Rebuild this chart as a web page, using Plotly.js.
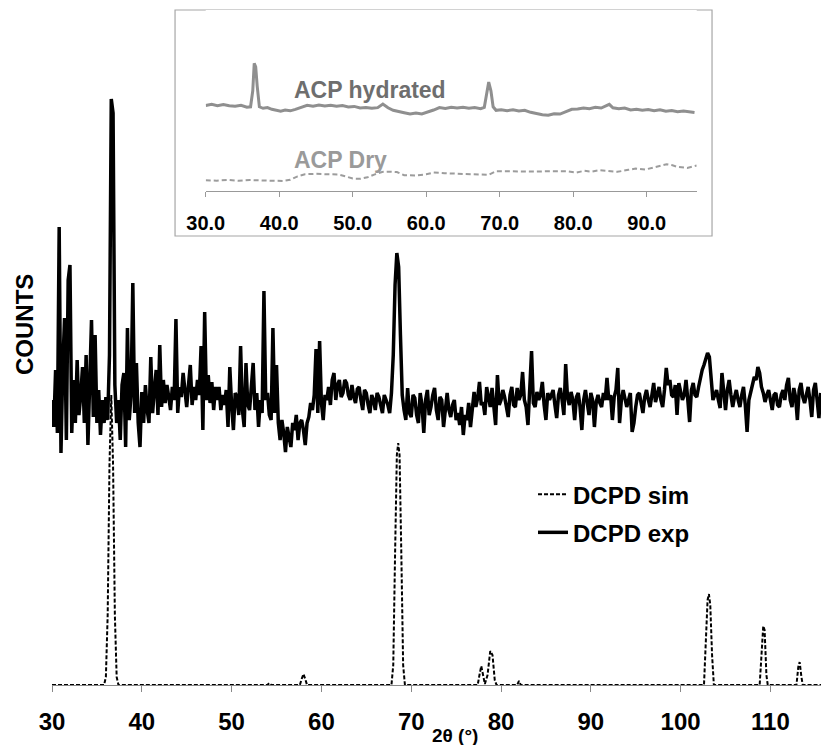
<!DOCTYPE html>
<html>
<head>
<meta charset="utf-8">
<script src="https://cdn.plot.ly/plotly-3.0.1.min.js"></script>
<style>html,body{margin:0;padding:0;background:#fff;}#chart{width:821px;height:745px;}</style>
</head>
<body>
<div id="chart"></div>
<script>
const expX = [
30.0,30.2,30.4,30.6,30.8,31.0,31.2,31.4,31.6,31.8,
32.0,32.2,32.4,32.6,32.8,33.0,33.2,33.4,33.6,33.8,
34.0,34.2,34.4,34.6,34.8,35.0,35.2,35.4,35.6,35.8,
36.0,36.2,36.4,36.6,36.8,37.0,37.2,37.4,37.6,37.8,
38.0,38.2,38.4,38.6,38.8,39.0,39.2,39.4,39.6,39.8,
40.0,40.2,40.4,40.6,40.8,41.0,41.2,41.4,41.6,41.8,
42.0,42.2,42.4,42.6,42.8,43.0,43.2,43.4,43.6,43.8,
44.0,44.2,44.4,44.6,44.8,45.0,45.2,45.4,45.6,45.8,
46.0,46.2,46.4,46.6,46.8,47.0,47.2,47.4,47.6,47.8,
48.0,48.2,48.4,48.6,48.8,49.0,49.2,49.4,49.6,49.8,
50.0,50.2,50.4,50.6,50.8,51.0,51.2,51.4,51.6,51.8,
52.0,52.2,52.4,52.6,52.8,53.0,53.2,53.4,53.6,53.8,
54.0,54.2,54.4,54.6,54.8,55.0,55.2,55.4,55.6,55.8,
56.0,56.2,56.4,56.6,56.8,57.0,57.2,57.4,57.6,57.8,
58.0,58.2,58.4,58.6,58.8,59.0,59.2,59.4,59.6,59.8,
60.0,60.2,60.4,60.6,60.8,61.0,61.2,61.4,61.6,61.8,
62.0,62.2,62.4,62.6,62.8,63.0,63.2,63.4,63.6,63.8,
64.0,64.2,64.4,64.6,64.8,65.0,65.2,65.4,65.6,65.8,
66.0,66.2,66.4,66.6,66.8,67.0,67.2,67.4,67.6,67.8,
68.0,68.2,68.4,68.6,68.8,69.0,69.2,69.4,69.6,69.8,
70.0,70.2,70.4,70.6,70.8,71.0,71.2,71.4,71.6,71.8,
72.0,72.2,72.4,72.6,72.8,73.0,73.2,73.4,73.6,73.8,
74.0,74.2,74.4,74.6,74.8,75.0,75.2,75.4,75.6,75.8,
76.0,76.2,76.4,76.6,76.8,77.0,77.2,77.4,77.6,77.8,
78.0,78.2,78.4,78.6,78.8,79.0,79.2,79.4,79.6,79.8,
80.0,80.2,80.4,80.6,80.8,81.0,81.2,81.4,81.6,81.8,
82.0,82.2,82.4,82.6,82.8,83.0,83.2,83.4,83.6,83.8,
84.0,84.2,84.4,84.6,84.8,85.0,85.2,85.4,85.6,85.8,
86.0,86.2,86.4,86.6,86.8,87.0,87.2,87.4,87.6,87.8,
88.0,88.2,88.4,88.6,88.8,89.0,89.2,89.4,89.6,89.8,
90.0,90.2,90.4,90.6,90.8,91.0,91.2,91.4,91.6,91.8,
92.0,92.2,92.4,92.6,92.8,93.0,93.2,93.4,93.6,93.8,
94.0,94.2,94.4,94.6,94.8,95.0,95.2,95.4,95.6,95.8,
96.0,96.2,96.4,96.6,96.8,97.0,97.2,97.4,97.6,97.8,
98.0,98.2,98.4,98.6,98.8,99.0,99.2,99.4,99.6,99.8,
100.0,100.2,100.4,100.6,100.8,101.0,101.2,101.4,101.6,101.8,
102.0,102.2,102.4,102.6,102.8,103.0,103.2,103.4,103.6,103.8,
104.0,104.2,104.4,104.6,104.8,105.0,105.2,105.4,105.6,105.8,
106.0,106.2,106.4,106.6,106.8,107.0,107.2,107.4,107.6,107.8,
108.0,108.2,108.4,108.6,108.8,109.0,109.2,109.4,109.6,109.8,
110.0,110.2,110.4,110.6,110.8,111.0,111.2,111.4,111.6,111.8,
112.0,112.2,112.4,112.6,112.8,113.0,113.2,113.4,113.6,113.8,
114.0,114.2,114.4,114.6,114.8,115.0,115.2,115.4,115.6];
const expY = [
285,258,315,252,458,232,318,367,245,405,
420,252,305,262,325,270,290,318,262,330,
240,305,365,268,350,262,295,250,285,262,
288,265,330,586,572,300,262,285,245,300,
312,238,357,265,290,402,272,322,262,238,
293,262,300,275,262,328,272,295,315,270,
340,278,305,282,300,288,275,298,285,366,
272,298,288,312,290,278,300,320,280,298,
285,305,290,339,255,373,285,310,282,303,
275,298,285,298,275,290,280,295,258,318,
280,255,292,288,270,339,275,258,322,280,
275,300,322,275,292,258,285,272,394,285,
292,270,265,357,272,320,262,245,265,252,
233,258,245,238,262,255,270,245,262,265,
255,240,262,268,282,275,290,336,272,344,
282,265,290,285,298,280,305,312,285,300,
305,288,292,305,302,290,285,300,288,282,
296,298,285,275,295,292,280,272,290,285,
275,292,288,278,272,290,285,280,272,292,
330,400,432,418,350,290,275,265,297,272,
268,290,287,270,262,292,280,252,285,295,
270,278,290,297,275,265,288,285,258,280,
292,275,268,280,285,265,272,260,278,250,
270,265,282,258,275,293,278,287,303,280,
283,270,298,285,278,297,282,260,310,280,
285,295,288,275,268,290,298,280,278,297,
285,290,313,285,278,260,290,334,282,278,
293,285,290,303,280,265,292,285,290,295,
280,267,290,297,285,270,321,288,280,293,
285,265,288,292,278,255,285,295,282,270,
292,285,258,283,290,282,278,292,285,307,
285,290,265,288,295,317,262,285,295,288,
278,285,292,253,262,278,290,292,280,272,
288,295,285,278,290,302,283,290,298,285,
278,295,317,300,305,290,288,300,270,302,
295,285,290,305,285,263,295,302,290,288,
298,308,315,320,325,332,328,310,285,290,
295,285,277,312,290,275,295,305,290,278,
288,295,285,278,290,298,280,253,285,292,
300,308,305,318,312,298,292,283,290,295,
285,275,290,292,280,278,290,295,285,300,
307,285,278,297,288,265,295,302,288,282,
290,298,285,268,295,302,285,267,292];

// ---- Main chart: DCPD simulated pattern ----
const simX = [30,35.8,36.0,36.2,36.4,36.6,36.8,37.0,37.2,37.4,54.0,54.2,54.4,57.6,57.8,58.0,58.2,58.4,67.8,68.0,68.2,68.4,68.55,68.7,68.9,69.1,69.3,77.4,77.6,77.8,78.0,78.2,78.5,78.8,79.05,79.3,79.5,81.8,82.0,82.2,102.6,102.8,103.0,103.15,103.3,103.5,103.7,108.8,109.0,109.2,109.35,109.55,109.7,112.9,113.1,113.25,113.45,113.6,115.63];
const simY = [0,0,8,70,220,290,220,70,8,0,0,2,0,0,6,11,6,0,0,20,130,230,242,230,130,20,0,0,10,19,10,1,10,34,30,5,0,0,4,0,0,40,85,91,80,30,0,0,30,59,55,10,0,0,18,23,8,0,0];

// ---- Inset: ACP hydrated / ACP Dry ----
const hydX = [30,30.8,31.6,32.4,33.2,34,34.8,35.6,36.1,36.4,36.6,36.8,37.0,37.3,37.8,38.4,39,39.6,40.2,40.8,41.5,42.2,43,43.8,44.6,45.4,46.2,47,47.8,48.6,49.4,50.2,51,51.8,52.6,53.4,54.1,54.8,55.5,56.2,57,57.8,58.6,59.4,60.2,61,61.8,62.6,63.4,64.2,65,65.8,66.6,67.4,67.9,68.2,68.5,68.8,69.1,69.5,70.2,71,71.8,72.6,73.4,74.2,75,75.8,76.6,77.4,78.2,79,79.8,80.6,81.4,82.2,83,83.8,84.5,84.9,85.4,86.2,87,87.8,88.6,89.4,90.2,91,91.8,92.6,93.4,94.2,95,95.8,96.5];
const hydY = [85.4,86.5,85.0,86.2,85.0,84.6,85.5,83.6,84.0,100,127.6,124,105,84.0,82.5,83.3,81.5,80.2,79.6,80.8,80.0,81.5,83.4,85.5,84.6,85.8,84.8,85.6,84.5,85.2,83.8,84.4,82.8,83.4,82.5,83.2,86.8,83.0,80.5,79.0,78.0,76.8,77.8,76.8,78.5,80.8,83.2,82.4,83.5,82.8,83.6,82.5,83.2,82.2,83.5,95,108.7,100,84,80.5,81.0,80.2,81.0,79.8,80.6,78.5,77.2,76.0,75.5,77.0,76.8,79.5,81.5,81.8,82.8,82.2,83.5,82.8,85.0,86.5,83.0,82.0,82.8,80.8,81.6,80.5,81.2,80.0,81.0,79.6,80.4,79.2,79.8,78.8,78.4];
const dryX = [30,31.5,33,34.5,36,37.5,39,40.5,41.5,42.5,43.5,45,46.5,48,49,50,51,52,53,54,55,56,57,58.5,60,61,62.5,64,65.5,67,68.5,69.5,71,73,75,77,79,80.4,81.5,82.5,83.5,84.5,86,87.5,88.5,89.8,91,91.8,92.7,93.5,94.2,95.5,96.3,96.8];
const dryY = [10.6,10.2,11.0,10.0,10.8,10.4,10.2,9.8,11.0,14.5,16.6,17.0,16.6,16.4,14.5,12.3,12.0,13.5,16.5,18.9,19.2,18.8,15.6,15.4,16.5,18.3,17.6,17.3,16.4,16.0,16.0,19.6,19.4,19.7,19.3,19.6,19.6,18.3,20.0,19.2,20.6,20.0,19.0,21.0,22.3,21.3,23.2,24.9,26.6,25.5,23.9,22.9,24.0,25.3];

// ---- Labels ----
const seriesNames = ["DCPD sim", "DCPD exp"];
const insetNames = ["ACP hydrated", "ACP Dry"];
const mainTicks = [30,40,50,60,70,80,90,100,110];
const mainTickText = ["30","40","50","60","70","80","90","100","110"];
const insetTicks = [30,40,50,60,70,80,90];
const insetTickText = ["30.0","40.0","50.0","60.0","70.0","80.0","90.0"];
const xTitle = "2θ (°)";
const yTitle = "COUNTS";

const FONT = "Liberation Sans, Arial, Helvetica, sans-serif";

const traces = [
  {x: simX, y: simY, type: 'scatter', mode: 'lines', name: seriesNames[0], legendgroup: 'a',
   line: {color: '#000', width: 2, dash: '4px,2px'}, cliponaxis: false, xaxis: 'x', yaxis: 'y'},
  {x: expX, y: expY, type: 'scatter', mode: 'lines', name: seriesNames[1], legendgroup: 'b',
   line: {color: '#000', width: 3.5}, xaxis: 'x', yaxis: 'y'},
  {x: hydX, y: hydY, type: 'scatter', mode: 'lines', name: insetNames[0], showlegend: false,
   line: {color: '#8f8f8f', width: 3}, xaxis: 'x2', yaxis: 'y2'},
  {x: dryX, y: dryY, type: 'scatter', mode: 'lines', name: insetNames[1], showlegend: false,
   line: {color: '#9c9c9c', width: 2, dash: '5px,3px'}, xaxis: 'x2', yaxis: 'y2'}
];

const layout = {
  width: 821, height: 745,
  margin: {l: 52, r: 0, t: 10, b: 60},
  paper_bgcolor: '#fff', plot_bgcolor: '#fff',
  font: {family: FONT, color: '#000'},
  showlegend: true,
  xaxis: {range: [30, 115.63], tickvals: mainTicks, ticktext: mainTickText,
    showline: true, linecolor: '#888', linewidth: 1, ticks: 'outside', ticklen: 6, tickcolor: '#888',
    tickfont: {family: FONT, size: 24, weight: 'bold', color: '#000'}, ticklabelstandoff: 9,
    showgrid: false, zeroline: false, fixedrange: true},
  yaxis: {range: [0, 675], visible: false, fixedrange: true},
  xaxis2: {domain: [0.1999, 0.8384], anchor: 'y2', range: [30, 96.8], tickvals: insetTicks, ticktext: insetTickText,
    showline: true, linecolor: '#999', linewidth: 1, ticks: 'outside', ticklen: 5, tickcolor: '#999',
    tickfont: {family: FONT, size: 20, weight: 'bold', color: '#000'}, ticklabelstandoff: 9,
    showgrid: false, zeroline: false, fixedrange: true},
  yaxis2: {domain: [0.7321, 1], anchor: 'x2', range: [0, 180.8], visible: false, fixedrange: true},
  legend: {x: 0.6255, y: 0.3155, xanchor: 'left', yanchor: 'top', bgcolor: 'rgba(0,0,0,0)',
    font: {family: FONT, size: 24, weight: 'bold', color: '#000'}, tracegroupgap: 4, itemwidth: 30},
  shapes: [
    {type: 'rect', xref: 'paper', yref: 'paper', x0: 0.16, x1: 0.8583, y0: 0.6652, y1: 1.0,
     line: {color: '#a6a6a6', width: 1.2}, fillcolor: '#fff', layer: 'below'}
  ],
  annotations: [
    {text: insetNames[0], xref: 'paper', yref: 'paper', x: 0.3115, y: 0.8822, xanchor: 'left', yanchor: 'middle',
     showarrow: false, font: {family: FONT, size: 23, weight: 'bold', color: '#6e6e6e'}},
    {text: insetNames[1], xref: 'paper', yref: 'paper', x: 0.3115, y: 0.7778, xanchor: 'left', yanchor: 'middle',
     showarrow: false, font: {family: FONT, size: 23, weight: 'bold', color: '#9a9a9a'}},
    {text: xTitle, xref: 'paper', yref: 'paper', x: 0.524, y: -0.0741, xanchor: 'center', yanchor: 'middle',
     showarrow: false, font: {family: FONT, size: 19, weight: 'bold', color: '#000'}},
    {text: yTitle, xref: 'paper', yref: 'paper', x: -0.0364, y: 0.5333, xanchor: 'center', yanchor: 'middle',
     textangle: -90, showarrow: false, font: {family: FONT, size: 24, weight: 'bold', color: '#000'}}
  ]
};

Plotly.newPlot('chart', traces, layout, {displayModeBar: false, staticPlot: true});
</script>
</body>
</html>
